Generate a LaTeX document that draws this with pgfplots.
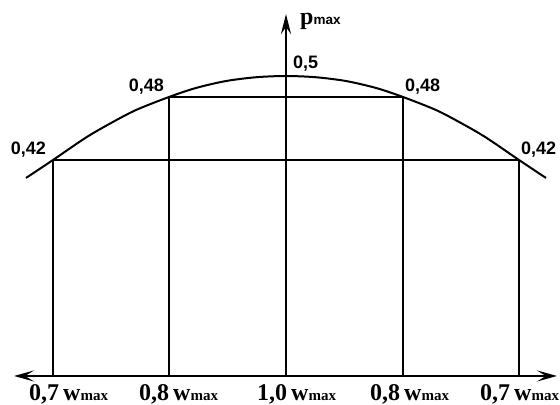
\documentclass[border=0pt]{standalone}
\usepackage{fontspec}
\setmainfont{Liberation Serif}
\newfontfamily\lsans{Liberation Sans}
\usepackage{pgfplots}
\pgfplotsset{compat=1.18}
\usetikzlibrary{arrows.meta}
\begin{document}
\begin{tikzpicture}
\begin{axis}[
  x=1pt, y=1050pt,
  xmin=-286, xmax=274, ymin=0.18667, ymax=0.57238,
  hide axis, clip=false,
  thinl/.style={black, line width=1.1pt},
]
% grid lines
\addplot[thinl] coordinates {(-233,0.2143) (-233,0.42)};
\addplot[thinl] coordinates {(-117,0.2143) (-117,0.48)};
\addplot[thinl] coordinates {(117,0.2143) (117,0.48)};
\addplot[thinl] coordinates {(233,0.2143) (233,0.42)};
\addplot[thinl] coordinates {(-233,0.42) (233,0.42)};
\addplot[thinl] coordinates {(-117,0.48) (117,0.48)};
% curve
\addplot[black, line width=2pt, smooth] coordinates {
 (-260,0.4029) (-233,0.42) (-200,0.4414) (-175,0.4552) (-150,0.4676)
 (-117,0.48) (-90,0.4886) (-60,0.4952) (-30,0.4988) (0,0.5)
 (30,0.4988) (60,0.4952) (90,0.4886) (117,0.48) (150,0.4676)
 (175,0.4552) (200,0.4414) (233,0.42) (260,0.4029)};
% axes
\addplot[black, line width=2.7pt, {Stealth[length=20pt,width=11pt,inset=9pt]}-{Stealth[length=20pt,width=11pt,inset=9pt]}]
  coordinates {(-272,0.2143) (271,0.2143)};
\addplot[black, line width=2.7pt, -{Stealth[length=20pt,width=10pt,inset=7pt]}]
  coordinates {(0,0.2143) (0,0.559)};
% curve labels
\begin{scope}[every node/.style={inner sep=0pt, font=\lsans\bfseries\fontsize{18}{18}\selectfont}]
\node[anchor=base east] at (axis cs:-240,0.4257) {0,42};
\node[anchor=base east] at (axis cs:-122,0.4848) {0,48};
\node[anchor=base west] at (axis cs:7,0.5076) {0,5};
\node[anchor=base west] at (axis cs:119,0.4848) {0,48};
\node[anchor=base west] at (axis cs:235,0.4257) {0,42};
\end{scope}
% p_max
\node[anchor=base west, inner sep=0pt] at (axis cs:14,0.5486)
  {{\bfseries\fontsize{24}{24}\selectfont p}{\lsans\bfseries\fontsize{13.5}{13.5}\selectfont max}};
% bottom labels
\begin{scope}[every node/.style={inner sep=0pt, anchor=base west}]
\node at (axis cs:-257,0.1905) {{\bfseries\fontsize{24}{24}\selectfont 0,7\,w}{\bfseries\fontsize{15}{15}\selectfont max}};
\node at (axis cs:-147,0.1905) {{\bfseries\fontsize{24}{24}\selectfont 0,8\,w}{\bfseries\fontsize{15}{15}\selectfont max}};
\node at (axis cs:-29,0.1905) {{\bfseries\fontsize{24}{24}\selectfont 1,0\,w}{\bfseries\fontsize{15}{15}\selectfont max}};
\node at (axis cs:84,0.1905) {{\bfseries\fontsize{24}{24}\selectfont 0,8\,w}{\bfseries\fontsize{15}{15}\selectfont max}};
\node at (axis cs:194,0.1905) {{\bfseries\fontsize{24}{24}\selectfont 0,7\,w}{\bfseries\fontsize{15}{15}\selectfont max}};
\end{scope}
\coordinate (bl) at (axis cs:-286,0.18667);
\coordinate (tr) at (axis cs:274,0.57238);
\end{axis}
\pgfresetboundingbox
\path (bl) rectangle (tr);
\end{tikzpicture}
\end{document}
